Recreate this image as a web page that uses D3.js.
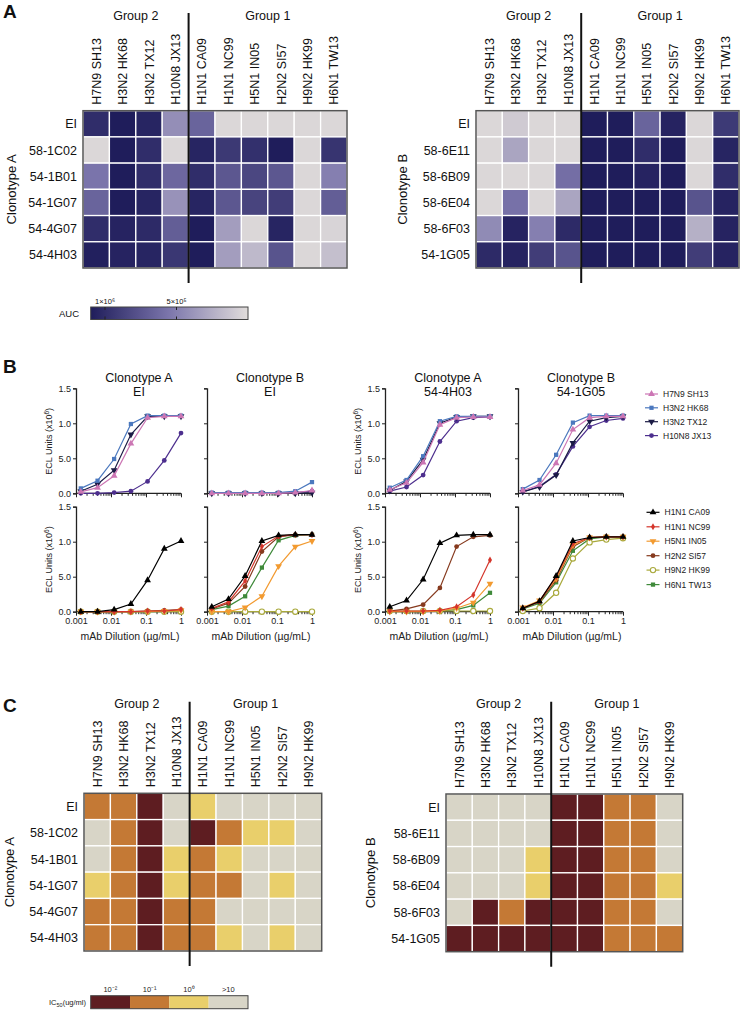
<!DOCTYPE html>
<html><head><meta charset="utf-8">
<script src="https://cdn.jsdelivr.net/npm/d3@7"></script>
<style>body{margin:0;background:#fff;} svg{display:block;font-family:"Liberation Sans",Arial,Helvetica,sans-serif;}</style>
</head><body><svg id="c" width="744" height="1014"></svg>
<script>
// ---------------- DATA ----------------
const strainsA = ["H7N9 SH13","H3N2 HK68","H3N2 TX12","H10N8 JX13","H1N1 CA09","H1N1 NC99","H5N1 IN05","H2N2 SI57","H9N2 HK99","H6N1 TW13"];
const strainsC = ["H7N9 SH13","H3N2 HK68","H3N2 TX12","H10N8 JX13","H1N1 CA09","H1N1 NC99","H5N1 IN05","H2N2 SI57","H9N2 HK99"];
const groupLabels = ["Group 2","Group 1"];
const group2Size = 4;
const rowsCloneA = ["EI","58-1C02","54-1B01","54-1G07","54-4G07","54-4H03"];
const rowsCloneB = ["EI","58-6E11","58-6B09","58-6E04","58-6F03","54-1G05"];

// Panel A: AUC values
const aucCloneA = [
  [10.0e5,11.0e5,10.5e5,4.2e5,6.6e5,0.3e5,0.3e5,0.3e5,0.3e5,0.3e5],
  [0.3e5,11.0e5,10.0e5,0.3e5,10.5e5,9.3e5,9.8e5,11.0e5,0.3e5,9.6e5],
  [5.6e5,11.0e5,10.0e5,6.4e5,10.0e5,7.4e5,8.4e5,7.4e5,0.3e5,5.0e5],
  [6.6e5,11.0e5,10.5e5,4.0e5,10.5e5,7.4e5,8.6e5,9.0e5,0.3e5,7.0e5],
  [10.0e5,10.6e5,10.2e5,7.0e5,11.0e5,3.4e5,0.3e5,10.5e5,0.3e5,0.5e5],
  [10.8e5,10.6e5,10.5e5,9.4e5,11.0e5,3.4e5,1.9e5,7.6e5,0.3e5,1.6e5]
];
const aucCloneB = [
  [0.3e5,1.0e5,0.3e5,0.3e5,11.0e5,11.0e5,6.6e5,10.6e5,0.3e5,9.2e5],
  [0.3e5,3.0e5,0.3e5,0.3e5,11.0e5,11.0e5,10.0e5,11.0e5,0.3e5,10.5e5],
  [0.3e5,0.3e5,0.3e5,6.0e5,11.0e5,11.0e5,10.6e5,11.0e5,0.3e5,10.0e5],
  [0.3e5,5.8e5,0.3e5,3.0e5,11.0e5,11.0e5,11.0e5,11.0e5,7.6e5,10.6e5],
  [4.4e5,10.6e5,5.0e5,10.2e5,11.0e5,11.0e5,11.0e5,11.0e5,2.4e5,10.6e5],
  [10.2e5,10.6e5,9.0e5,7.6e5,11.0e5,11.0e5,11.0e5,11.0e5,9.0e5,10.6e5]
];
const aucLegendTicks = [1e6, 5e5];
const aucLegendLabels = ["1×10⁶","5×10⁵"];

// Panel B: ECL binding curves
const dilutions = [0.00137,0.00412,0.0123,0.037,0.111,0.333,1];
const group2Strains = ["H7N9 SH13","H3N2 HK68","H3N2 TX12","H10N8 JX13"];
const group1Strains = ["H1N1 CA09","H1N1 NC99","H5N1 IN05","H2N2 SI57","H9N2 HK99","H6N1 TW13"];
const chartTitles = [["Clonotype A","EI"],["Clonotype B","EI"],["Clonotype A","54-4H03"],["Clonotype B","54-1G05"]];
const eclAEIg2 = [
  [0.02,0.08,0.25,0.71,1.08,1.10,1.10],
  [0.07,0.18,0.49,0.99,1.11,1.11,1.11],
  [0.03,0.13,0.33,0.84,1.10,1.10,1.10],
  [0.00,0.00,0.01,0.03,0.17,0.47,0.86]
];
const eclBEIg2 = [
  [0.00,0.00,0.00,0.00,0.00,0.01,0.04],
  [0.01,0.01,0.01,0.01,0.01,0.03,0.16],
  [0.00,0.00,0.00,0.00,0.00,0.00,0.01],
  [0.00,0.00,0.00,0.00,0.00,0.01,0.03]
];
const eclA4H03g2 = [
  [0.05,0.15,0.44,0.98,1.08,1.09,1.09],
  [0.08,0.19,0.53,1.03,1.10,1.10,1.10],
  [0.04,0.17,0.48,1.00,1.09,1.10,1.10],
  [0.03,0.09,0.26,0.74,1.03,1.08,1.09]
];
const eclB1G05g2 = [
  [0.04,0.12,0.43,0.91,1.08,1.10,1.10],
  [0.06,0.19,0.55,1.01,1.11,1.11,1.11],
  [0.02,0.09,0.26,0.72,1.03,1.08,1.10],
  [0.02,0.10,0.27,0.67,0.95,1.04,1.07]
];
const eclAEIg1 = [
  [0.00,0.00,0.03,0.11,0.45,0.90,1.01],
  [0.00,0.00,0.00,0.00,0.01,0.01,0.03],
  [0.00,0.00,0.00,0.00,0.00,0.01,0.02],
  [0.00,0.00,0.00,0.00,0.01,0.02,0.03],
  [0.00,0.00,0.00,0.00,0.00,0.00,0.00],
  [0.00,0.00,0.00,0.00,0.00,0.00,0.01]
];
const eclBEIg1 = [
  [0.07,0.18,0.51,1.01,1.09,1.10,1.10],
  [0.05,0.14,0.44,0.93,1.08,1.10,1.10],
  [0.00,0.00,0.06,0.22,0.65,0.93,1.01],
  [0.04,0.12,0.36,0.86,1.07,1.10,1.10],
  [0.00,0.00,0.00,0.00,0.00,0.00,0.00],
  [0.03,0.08,0.22,0.63,1.02,1.09,1.10]
];
const eclA4H03g1 = [
  [0.07,0.16,0.46,0.98,1.09,1.10,1.10],
  [0.01,0.01,0.01,0.02,0.07,0.24,0.74],
  [0.00,0.00,0.00,0.01,0.05,0.13,0.40],
  [0.01,0.04,0.10,0.34,0.93,1.07,1.09],
  [0.01,0.01,0.01,0.01,0.01,0.01,0.01],
  [0.00,0.00,0.00,0.01,0.03,0.09,0.27]
];
const eclB1G05g1 = [
  [0.05,0.15,0.51,1.01,1.06,1.07,1.07],
  [0.05,0.15,0.50,0.97,1.06,1.07,1.07],
  [0.06,0.16,0.47,0.95,1.06,1.07,1.07],
  [0.05,0.14,0.45,0.93,1.06,1.07,1.07],
  [0.01,0.05,0.27,0.76,0.99,1.03,1.05],
  [0.04,0.12,0.42,0.87,1.04,1.07,1.07]
];
const yTickValues = [0,0.5,1,1.5];
const yTickLabels = ["0.0","5.0","1.0","1.5"];
const xTickValues = [0.001,0.01,0.1,1];
const xTickLabels = ["0.001","0.01","0.1","1"];

// Panel C: IC50 (ug/ml)
const icCloneA = [
  [0.1,0.1,0.01,20,1,20,20,20,20],
  [20,0.1,0.01,20,0.01,0.1,1,1,20],
  [20,0.1,0.01,1,0.1,1,20,20,20],
  [1,0.1,0.01,1,0.1,0.1,20,1,20],
  [0.1,0.1,0.01,0.1,0.1,20,20,20,20],
  [0.1,0.1,0.01,0.1,0.1,1,20,1,20]
];
const icCloneB = [
  [20,20,20,20,0.01,0.01,0.1,0.1,20],
  [20,20,20,20,0.01,0.01,0.1,0.1,20],
  [20,20,20,1,0.01,0.01,0.1,0.1,20],
  [20,20,20,1,0.01,0.01,0.1,0.1,1],
  [20,0.01,0.1,0.01,0.01,0.01,0.1,0.1,20],
  [0.01,0.01,0.01,0.01,0.01,0.01,0.1,0.1,0.1]
];
const icLegendValues = [0.01,0.1,1,20];
const icLegendLabels = ["10⁻²","10⁻¹","10⁰",">10"];

// ---------------- DRAWING ----------------
const svg = d3.select("#c");
const aucColor = d3.scaleLinear().domain([0,5.5e5,11e5]).range(["#e1dddb","#7c76ac","#1f1d5b"]).clamp(true);
const icColor = d3.scaleThreshold().domain([0.03,0.3,10]).range(["#5e1d21","#c47935","#e9cf6b","#d8d5c7"]);

function heatmap(cfg){
  const g = svg.append("g");
  const x = d3.scaleBand().domain(cfg.cols).range([cfg.x0,cfg.x1]);
  const y = d3.scaleBand().domain(cfg.rows).range([cfg.y0,cfg.y1]);
  cfg.rows.forEach((r,i)=>{
    g.selectAll(null).data(cfg.values[i]).join("rect")
      .attr("x",(d,j)=>x(cfg.cols[j])).attr("y",y(r))
      .attr("width",x.bandwidth()).attr("height",y.bandwidth())
      .attr("fill",d=>cfg.color(d)).attr("stroke","#fff").attr("stroke-width",1.3);
  });
  g.append("rect").attr("x",cfg.x0).attr("y",cfg.y0).attr("width",cfg.x1-cfg.x0).attr("height",cfg.y1-cfg.y0)
    .attr("fill","none").attr("stroke","#555").attr("stroke-width",1.5);
  g.selectAll(null).data(cfg.cols).join("text")
    .attr("transform",d=>`translate(${x(d)+x.bandwidth()/2},${cfg.y0-6}) rotate(-90)`)
    .attr("dy","0.36em").attr("font-size",12.5).attr("fill","#111").text(d=>d);
  g.selectAll(null).data(cfg.rows).join("text")
    .attr("x",cfg.rowLabelX).attr("y",d=>y(d)+y.bandwidth()/2).attr("dy","0.36em")
    .attr("text-anchor","end").attr("font-size",12.5).attr("fill","#111").text(d=>d);
  const dx = x(cfg.cols[group2Size]);
  g.append("line").attr("x1",dx).attr("x2",dx).attr("y1",cfg.lineTop).attr("y2",cfg.y1+15)
    .attr("stroke","#111").attr("stroke-width",2);
  const g2c = (cfg.x0+dx)/2, g1c = (dx+cfg.x1)/2;
  g.selectAll(null).data([g2c,g1c]).join("text")
    .attr("x",d=>d).attr("y",cfg.lineTop+2).attr("dy","0.36em").attr("text-anchor","middle")
    .attr("font-size",12.5).attr("fill","#111").text((d,i)=>groupLabels[i]);
  g.append("text").attr("transform",`translate(${cfg.cloneX},${(cfg.y0+cfg.y1)/2}) rotate(-90)`)
    .attr("text-anchor","middle").attr("dy","0.36em").attr("font-size",13).attr("fill","#111").text(cfg.cloneLabel);
}

function panelLetter(t,x,y){
  svg.append("text").attr("x",x).attr("y",y).attr("font-size",19).attr("font-weight","bold").attr("fill","#111").text(t);
}

// ---- Panel A ----
panelLetter("A",3,18);
heatmap({cols:strainsA,rows:rowsCloneA,values:aucCloneA,color:aucColor,x0:83,x1:347,y0:110.7,y1:268,rowLabelX:77,lineTop:13,cloneX:11,cloneLabel:"Clonotype A"});
heatmap({cols:strainsA,rows:rowsCloneB,values:aucCloneB,color:aucColor,x0:476,x1:739,y0:110.7,y1:268,rowLabelX:470,lineTop:13,cloneX:402,cloneLabel:"Clonotype B"});

// AUC legend
{
  const lx = d3.scaleLinear().domain([11e5,0]).range([90.7,248]);
  const defs = svg.append("defs");
  const grad = defs.append("linearGradient").attr("id","aucGrad").attr("x1","0%").attr("x2","100%");
  d3.range(0,1.0001,0.1).forEach(t=>{
    grad.append("stop").attr("offset",(t*100)+"%").attr("stop-color",aucColor(lx.invert(90.7+t*(248-90.7))));
  });
  svg.append("rect").attr("x",90.7).attr("y",307).attr("width",248-90.7).attr("height",12.5)
    .attr("fill","url(#aucGrad)").attr("stroke","#444").attr("stroke-width",1);
  aucLegendTicks.forEach((v,i)=>{
    svg.append("line").attr("x1",lx(v)).attr("x2",lx(v)).attr("y1",307).attr("y2",310).attr("stroke","#222");
    svg.append("line").attr("x1",lx(v)).attr("x2",lx(v)).attr("y1",316.5).attr("y2",319.5).attr("stroke","#222");
    svg.append("text").attr("x",lx(v)).attr("y",303.5).attr("text-anchor","middle").attr("font-size",7.5).attr("fill","#111").text(aucLegendLabels[i]);
  });
  svg.append("text").attr("x",79).attr("y",317).attr("text-anchor","end").attr("font-size",9.5).attr("fill","#111").text("AUC");
}

// ---- Panel B ----
panelLetter("B",3,373);
const seriesStyle = {
  "H7N9 SH13":{c:"#cc76b4",s:"tri"},
  "H3N2 HK68":{c:"#4b78be",s:"sq"},
  "H3N2 TX12":{c:"#1b1b45",s:"tridown"},
  "H10N8 JX13":{c:"#4d2f8e",s:"circ"},
  "H1N1 CA09":{c:"#000000",s:"tri"},
  "H1N1 NC99":{c:"#d4352b",s:"dia"},
  "H5N1 IN05":{c:"#f29a30",s:"tridown"},
  "H2N2 SI57":{c:"#863a1e",s:"circ"},
  "H9N2 HK99":{c:"#a9a93c",s:"open"},
  "H6N1 TW13":{c:"#3f8a3a",s:"sq"}
};
function marker(g,style,px,py){
  let type = d3.symbolTriangle, rot=0, size=20, fill=style.c, stroke="none";
  if(style.s==="sq"){type=d3.symbolSquare;size=18;}
  if(style.s==="tridown"){rot=180;}
  if(style.s==="circ"){type=d3.symbolCircle;size=18;}
  if(style.s==="dia"){type=d3.symbolDiamond;size=14;}
  if(style.s==="open"){type=d3.symbolCircle;size=22;fill="#fff";stroke=style.c;}
  g.append("path").attr("d",d3.symbol().type(type).size(size)())
    .attr("transform",`translate(${px},${py}) rotate(${rot})`)
    .attr("fill",fill).attr("stroke",stroke).attr("stroke-width",1.1);
}
const chartX = [76,207,385,518];
const rowZero = [493.3,611.7];
const chartData = [[eclAEIg2,eclBEIg2,eclA4H03g2,eclB1G05g2],[eclAEIg1,eclBEIg1,eclA4H03g1,eclB1G05g1]];
const rowStrains = [group2Strains,group1Strains];
const minorTicks = [];
[0.001,0.01,0.1].forEach(b=>{for(let k=2;k<=9;k++) minorTicks.push(b*k);});

for(let r=0;r<2;r++){
  for(let c=0;c<4;c++){
    const g = svg.append("g");
    const x = d3.scaleLog().domain([0.001,1]).range([chartX[c],chartX[c]+105]);
    const y = d3.scaleLinear().domain([0,1.5]).range([rowZero[r],rowZero[r]-105]);
    const showY = (c===0||c===2);
    const yAx = d3.axisLeft(y).tickValues(yTickValues).tickSize(3).tickPadding(2)
      .tickFormat((d,i)=>showY?yTickLabels[i]:"");
    const ya = g.append("g").attr("transform",`translate(${chartX[c]},0)`).call(yAx);
    ya.select(".domain").attr("stroke","#222").attr("stroke-width",1.3);
    ya.selectAll(".tick line").attr("stroke","#222");
    ya.selectAll("text").attr("font-size",9).attr("fill","#222").attr("font-family","Liberation Sans, Arial, sans-serif");
    const xAx = d3.axisBottom(x).tickValues(xTickValues).tickSize(4).tickPadding(2)
      .tickFormat((d,i)=>r===1?xTickLabels[i]:"");
    const xa = g.append("g").attr("transform",`translate(0,${rowZero[r]})`).call(xAx);
    xa.select(".domain").attr("stroke","#222").attr("stroke-width",1.3).attr("d",`M${chartX[c]},0H${chartX[c]+105}`);
    xa.selectAll(".tick line").attr("stroke","#222");
    xa.selectAll("text").attr("font-size",9).attr("fill","#222").attr("font-family","Liberation Sans, Arial, sans-serif");
    const xm = g.append("g").attr("transform",`translate(0,${rowZero[r]})`)
      .call(d3.axisBottom(x).tickValues(minorTicks).tickSize(2.5).tickFormat(""));
    xm.select(".domain").remove();
    xm.selectAll(".tick line").attr("stroke","#222");
    if(showY){
      g.append("text").attr("transform",`translate(${chartX[c]-24},${rowZero[r]-52}) rotate(-90)`)
        .attr("text-anchor","middle").attr("font-size",9).attr("fill","#222")
        .html('ECL Units (x10<tspan dy="-3.5" font-size="6.5">6</tspan><tspan dy="3.5">)</tspan>');
    }
    if(r===1){
      g.append("text").attr("x",chartX[c]+54).attr("y",640).attr("text-anchor","middle")
        .attr("font-size",10.5).attr("fill","#222").text("mAb Dilution (µg/mL)");
    }
    if(r===0){
      g.append("text").attr("x",chartX[c]+63).attr("y",381.5).attr("text-anchor","middle").attr("font-size",12.5).attr("fill","#111").text(chartTitles[c][0]);
      g.append("text").attr("x",chartX[c]+63).attr("y",396).attr("text-anchor","middle").attr("font-size",12.5).attr("fill","#111").text(chartTitles[c][1]);
    }
    const line = d3.line().x((d,i)=>x(dilutions[i])).y(d=>y(d));
    const data = chartData[r][c];
    for(let s=data.length-1;s>=0;s--){
      const st = seriesStyle[rowStrains[r][s]];
      g.append("path").attr("d",line(data[s])).attr("fill","none").attr("stroke",st.c).attr("stroke-width",1.2);
      data[s].forEach((v,i)=>marker(g,st,x(dilutions[i]),y(v)));
    }
  }
}
// legends
function seriesLegend(list,x0,ys){
  list.forEach((name,i)=>{
    const st = seriesStyle[name];
    svg.append("line").attr("x1",x0).attr("x2",x0+13).attr("y1",ys[i]).attr("y2",ys[i]).attr("stroke",st.c).attr("stroke-width",1.2);
    marker(svg,st,x0+6.5,ys[i]);
    svg.append("text").attr("x",x0+18).attr("y",ys[i]).attr("dy","0.35em").attr("font-size",8.5).attr("fill","#222").text(name);
  });
}
seriesLegend(group2Strains,645,[394,407.8,421.7,435.6]);
seriesLegend(group1Strains,646.5,[512.3,526.8,541.2,555.7,570.1,584.6]);

// ---- Panel C ----
panelLetter("C",3,712);
heatmap({cols:strainsC,rows:rowsCloneA,values:icCloneA,color:icColor,x0:84,x1:321.7,y0:793.3,y1:951,rowLabelX:78,lineTop:701.7,cloneX:9,cloneLabel:"Clonotype A"});
heatmap({cols:strainsC,rows:rowsCloneB,values:icCloneB,color:icColor,x0:446,x1:682.7,y0:794,y1:951.7,rowLabelX:440,lineTop:701.7,cloneX:370,cloneLabel:"Clonotype B"});
{
  const bx = d3.scaleBand().domain(icLegendValues).range([90.7,248]);
  svg.selectAll(null).data(icLegendValues).join("rect")
    .attr("x",d=>bx(d)).attr("y",995.7).attr("width",bx.bandwidth()).attr("height",13).attr("fill",d=>icColor(d));
  svg.append("rect").attr("x",90.7).attr("y",995.7).attr("width",248-90.7).attr("height",13)
    .attr("fill","none").attr("stroke","#444").attr("stroke-width",1);
  svg.selectAll(null).data(icLegendValues).join("text")
    .attr("x",d=>bx(d)+bx.bandwidth()/2).attr("y",992).attr("text-anchor","middle").attr("font-size",7.5).attr("fill","#222")
    .text((d,i)=>icLegendLabels[i]);
  svg.append("text").attr("x",86).attr("y",1005).attr("text-anchor","end").attr("font-size",7.5).attr("fill","#222")
    .html('IC<tspan dy="2" font-size="5.5">50</tspan><tspan dy="-2">(ug/ml)</tspan>');
}
</script></body></html>
